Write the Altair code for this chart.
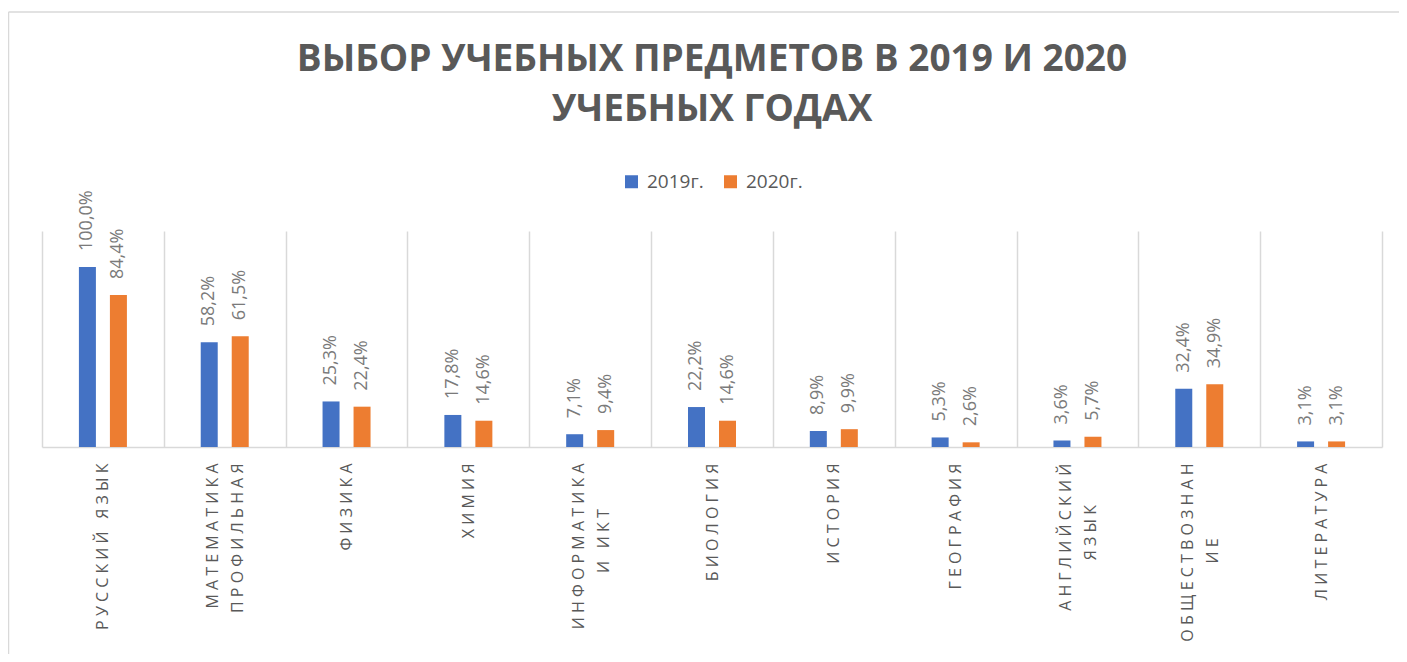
import altair as alt
import pandas as pd

# ---- data ----
label_lines = [
    ["РУССКИЙ ЯЗЫК"],
    ["МАТЕМАТИКА", "ПРОФИЛЬНАЯ"],
    ["ФИЗИКА"],
    ["ХИМИЯ"],
    ["ИНФОРМАТИКА", "И ИКТ"],
    ["БИОЛОГИЯ"],
    ["ИСТОРИЯ"],
    ["ГЕОГРАФИЯ"],
    ["АНГЛИЙСКИЙ", "ЯЗЫК"],
    ["ОБЩЕСТВОЗНАН", "ИЕ"],
    ["ЛИТЕРАТУРА"],
]
years = ["2019г.", "2020г."]
values_2019 = [100.0, 58.2, 25.3, 17.8, 7.1, 22.2, 8.9, 5.3, 3.6, 32.4, 3.1]
values_2020 = [84.4, 61.5, 22.4, 14.6, 9.4, 14.6, 9.9, 2.6, 5.7, 34.9, 3.1]
colors = ["#4472C4", "#ED7D31"]
title_lines = ["ВЫБОР УЧЕБНЫХ ПРЕДМЕТОВ В 2019 И 2020", "УЧЕБНЫХ ГОДАХ"]

NB = "\u00a0"
ZW = "\u200b"


def spread(line):
    # letter-spaced rendering of a label line (as in the reference)
    return (" " + NB + " ").join(" ".join(w) for w in line.split(" "))


def units(s):
    return sum(1 if ch in (" ", NB) else 2.5 for ch in s)


def make_label(lines):
    sp = [spread(l) for l in lines]
    longest = max(units(s) for s in sp)
    out = []
    for s in sp:
        pad = int(round((longest - units(s)) / 2))
        out.append(s + (NB * pad + ZW if pad else ""))
    return "|".join(out)


categories = [make_label(l) for l in label_lines]

rows = []
for cat, a, b in zip(categories, values_2019, values_2020):
    for yr, v in zip(years, (a, b)):
        rows.append({"category": cat, "year": yr, "value": v / 100.0,
                     "label": f"{v:.1f}".replace(".", ",") + "%"})
df = pd.DataFrame(rows)

GRID = "#d9d9d9"
TXT = "#595959"

x_enc = alt.X(
    "category:N",
    sort=categories,
    scale=alt.Scale(paddingInner=0, paddingOuter=0),
    axis=alt.Axis(
        title=None,
        labelAngle=-90,
        labelAlign="right",
        labelBaseline="middle",
        labelFont="Open Sans",
        labelFontSize=16,
        labelColor=TXT,
        labelPadding=16,
        labelLineHeight=25,
        labelLimit=400,
        labelExpr="split(datum.label, '|')",
        labelOffset={"condition": {"test": "indexof(datum.label, '|') >= 0", "value": -12},
                     "value": 0},
        ticks=False,
        domain=True,
        domainColor=GRID,
        domainWidth=1.5,
        grid=True,
        gridColor=GRID,
        gridWidth=1.5,
        tickBand="extent",
    ),
)
xoff = alt.XOffset("year:N", sort=years,
                   scale=alt.Scale(paddingInner=0, paddingOuter=0.9645))
y_enc = alt.Y("value:Q", scale=alt.Scale(domain=[0, 1.2]), axis=None)

base = alt.Chart(df)

bars = base.mark_bar(width=17).encode(
    x=x_enc,
    xOffset=xoff,
    y=y_enc,
    color=alt.Color(
        "year:N",
        sort=years,
        scale=alt.Scale(domain=years, range=colors),
        legend=alt.Legend(
            title=None,
            orient="none",
            legendX=580,
            legendY=-59,
            direction="horizontal",
            symbolType="square",
            symbolSize=169,
            symbolStrokeWidth=0,
            labelFont="Open Sans",
            labelFontSize=19,
            labelColor=TXT,
            labelOffset=6,
            columnPadding=17,
            padding=0,
        ),
    ),
)

labels = base.mark_text(
    angle=270, align="left", baseline="middle", dx=16,
    font="Open Sans", fontSize=18, color="#7a7a7a",
).encode(x=x_enc, xOffset=xoff, y=y_enc, text="label:N")

frame_df = pd.DataFrame({"k": [0]})
frame_top = alt.Chart(frame_df).mark_rule(color=GRID, strokeWidth=1.5).encode(
    x=alt.value(-33.5), x2=alt.value(1360), y=alt.value(-219)
)
frame_left = alt.Chart(frame_df).mark_rule(color=GRID, strokeWidth=1.5).encode(
    x=alt.value(-33.5), y=alt.value(-219), y2=alt.value(430)
)

chart = (
    alt.layer(frame_top, frame_left, bars, labels)
    .properties(
        width=1340,
        height=216,
        autosize=alt.AutoSizeParams(type="none"),
        padding={"left": 34, "top": 223, "right": 17, "bottom": 207},
        title=alt.Title(
            title_lines,
            font="Open Sans",
            fontSize=37,
            fontWeight="bold",
            color=TXT,
            lineHeight=50,
            anchor="middle",
            offset=-118,
        ),
    )
    .configure_view(strokeWidth=0)
)

chart.save("out.html", embed_options={"renderer": "svg", "actions": False})
